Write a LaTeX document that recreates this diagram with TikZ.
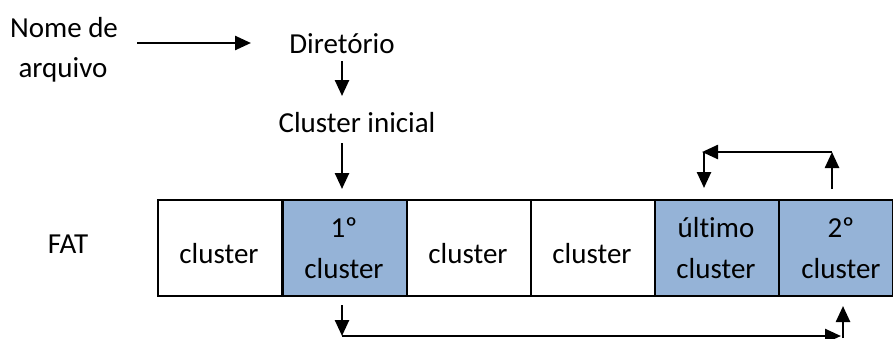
\documentclass[tikz,border=0pt]{standalone}
\usepackage{fontspec}
\setmainfont{Carlito}[Ligatures=CommonOff]
\usetikzlibrary{arrows.meta}
\definecolor{cellblue}{HTML}{95B3D7}
\begin{document}
\begin{tikzpicture}[x=1pt,y=-1pt,
  every node/.style={font=\fontsize{29}{41}\selectfont, inner sep=0pt},
  txt/.style={anchor=base},
  cell/.style={draw, line width=2pt, minimum width=124pt, minimum height=96pt, anchor=north west},
  hi/.style={cell, fill=cellblue},
  conn/.style={line width=2.5pt, -{Triangle[length=16pt,width=14pt]}}]
\useasboundingbox (0,0) rectangle (893,338);
% labels
\node[txt] (nome1) at (64,37) {Nome de};
\node[txt] (nome2) at (63,77) {arquivo};
\node[txt] (dir) at (342,53) {Diretório};
\node[txt] (ci) at (357,132) {Cluster inicial};
\node[txt] (fat) at (68,253) {FAT};
% cells
\node[cell] (c1) at (157,199) {};
\node[hi] (c2) at (282,199) {};
\node[cell] (c3) at (406,199) {};
\node[cell] (c4) at (530,199) {};
\node[hi] (c5) at (654,199) {};
\node[hi, minimum width=114pt] (c6) at (778,199) {};
% cell texts
\node[txt] (t1) at (219,263) {cluster};
\node[txt] (t2a) at (344,237) {1º};
\node[txt] (t2b) at (344,278) {cluster};
\node[txt] (t3) at (468,263) {cluster};
\node[txt] (t4) at (592,263) {cluster};
\node[txt] (t5a) at (716,237) {último};
\node[txt] (t5b) at (716,278) {cluster};
\node[txt] (t6a) at (841,237) {2º};
\node[txt] (t6b) at (841,278) {cluster};
% top connectors
\coordinate (a1) at (137,43);
\coordinate (a2) at (251,43);
\draw[conn] (a1) -- (a2);
\coordinate (d1) at (342,61);
\coordinate (d2) at (342,96);
\draw[conn] (d1) -- (d2);
\coordinate (e1) at (342,143);
\coordinate (e2) at (342,189);
\draw[conn] (e1) -- (e2);
% bottom chain 1º -> 2º
\coordinate (b1) at (342,305);
\coordinate (b2) at (342,336);
\coordinate (b3) at (841,336);
\coordinate (b4) at (843,338);
\coordinate (b5) at (843,306);
\draw[conn] (b1) -- (b2);
\draw[conn] (b2) -- (b3);
\draw[conn] (b4) -- (b5);
% top chain 2º -> último
\coordinate (u1) at (832,189);
\coordinate (u2) at (832,152);
\coordinate (u3) at (702,152);
\coordinate (u4) at (704,152);
\coordinate (u5) at (704,188);
\draw[conn] (u1) -- (u2);
\draw[conn] (u2) -- (u3);
\draw[conn] (u4) -- (u5);
\end{tikzpicture}
\end{document}
